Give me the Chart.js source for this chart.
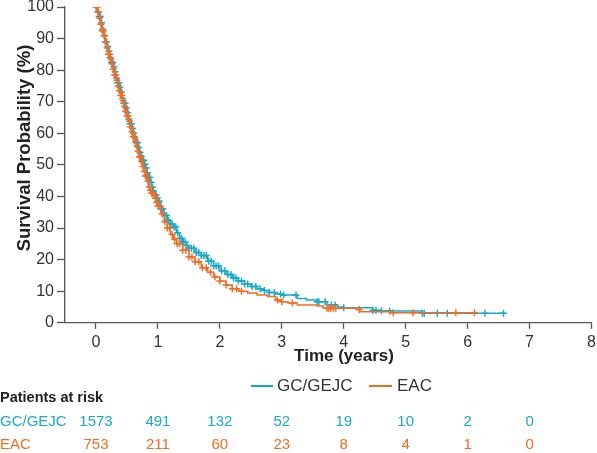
<!DOCTYPE html>
<html>
<head>
<meta charset="utf-8">
<script src="https://cdn.jsdelivr.net/npm/chart.js@4/dist/chart.umd.min.js"></script>
<style>
  html, body { margin: 0; padding: 0; background: #fff; }
  #wrap { width: 597px; height: 453px; }
</style>
</head>
<body>
<div id="wrap"><canvas id="kmChart" width="597" height="453"></canvas></div>
<script>
// Kaplan-Meier steps (time in years, survival %)
const gcTime = [0, 0.025, 0.05, 0.075, 0.1, 0.125, 0.15, 0.175, 0.2, 0.225, 0.25, 0.275, 0.3, 0.325, 0.35, 0.375,
  0.4, 0.425, 0.45, 0.475, 0.5, 0.525, 0.55, 0.575, 0.6, 0.625, 0.65, 0.675, 0.7, 0.725, 0.75, 0.775, 0.8, 0.825,
  0.85, 0.875, 0.9, 0.925, 0.95, 0.975, 1.0, 1.05, 1.1, 1.15, 1.2, 1.25, 1.3, 1.35, 1.4, 1.45, 1.5, 1.6, 1.7, 1.8,
  1.9, 2.0, 2.1, 2.2, 2.3, 2.4, 2.5, 2.6, 2.7, 2.8, 2.9, 3.0, 3.25, 3.4, 3.57, 3.73, 3.9, 4.0, 4.47, 4.6, 4.74, 5.27, 6.6];
const gcSurv = [100, 98.5, 97, 95, 93, 91, 89, 87.5, 86, 84, 82.5, 81, 79.5, 77.5, 76, 74.5,
  73, 71, 69.5, 68, 66.5, 64.5, 63, 61.5, 60, 58.5, 57, 55.5, 54, 52.8, 51.5, 50.2, 49, 47.5,
  46, 44.5, 43, 41.7, 40.5, 39.5, 38.5, 36, 34, 32.5, 31.3, 30.3, 28.5, 26.8, 25.5, 24.5, 23.6, 22.3, 21.3, 19.5,
  18, 16.5, 15.3, 14.2, 13.2, 12.3, 11.5, 10.8, 10.2, 9.6, 9.1, 8.8, 7.7, 7.2, 6.7, 5.6, 5.0, 4.8, 4.0, 3.8, 3.7, 3.0, 3.0];

const eacTime = [0, 0.025, 0.05, 0.075, 0.1, 0.125, 0.15, 0.175, 0.2, 0.225, 0.25, 0.275, 0.3, 0.325, 0.35, 0.375,
  0.4, 0.425, 0.45, 0.475, 0.5, 0.525, 0.55, 0.575, 0.6, 0.625, 0.65, 0.675, 0.7, 0.725, 0.75, 0.775, 0.8, 0.825,
  0.85, 0.875, 0.9, 0.925, 0.95, 0.975, 1.0, 1.05, 1.1, 1.15, 1.2, 1.25, 1.3, 1.4, 1.5, 1.6, 1.7, 1.8, 1.9, 2.0,
  2.1, 2.2, 2.3, 2.45, 2.6, 2.77, 2.9, 3.0, 3.1, 3.25, 3.57, 3.67, 4.2, 4.26, 4.74, 6.13];
const eacSurv = [100, 98.3, 96.5, 94.5, 92.5, 90.8, 89, 87, 85, 83.5, 82, 80.3, 78.5, 76.8, 75, 73.5,
  72, 70.3, 68.5, 67, 65.5, 63.8, 62, 60.5, 59, 57.5, 56, 54.3, 52.5, 51, 49.5, 48, 46.5, 44.8,
  43, 42, 41, 40.3, 39.5, 38.2, 37, 34.5, 32, 30, 28, 26.5, 25, 23, 20.8, 19.3, 17.4, 16, 14.5, 13.2,
  12, 10.8, 10, 9.4, 8.8, 8.3, 7.2, 6.7, 6.3, 5.6, 5.3, 4.6, 4.2, 3.5, 3.2, 3.2];

// censored observations (times)
const gcCensor = [0.01, 0.03, 0.05, 0.07, 0.09, 0.11, 0.13, 0.15, 0.17, 0.19, 0.21, 0.23, 0.25, 0.27, 0.29, 0.31,
  0.33, 0.35, 0.37, 0.39, 0.41, 0.43, 0.45, 0.47, 0.49, 0.51, 0.53, 0.55, 0.57, 0.59, 0.61, 0.63, 0.65, 0.67, 0.69,
  0.71, 0.73, 0.75, 0.77, 0.79, 0.81, 0.83, 0.85, 0.87, 0.89, 0.91, 0.93, 0.95, 0.97, 0.99, 1.02, 1.05, 1.08, 1.11,
  1.14, 1.17, 1.2, 1.23, 1.26, 1.29, 1.32, 1.35, 1.38, 1.41, 1.44, 1.47, 1.5, 1.54, 1.58, 1.62, 1.66, 1.7, 1.74,
  1.78, 1.82, 1.86, 1.9, 1.94, 1.98, 2.03, 2.08, 2.13, 2.18, 2.22, 2.26, 2.3, 2.35, 2.4, 2.45, 2.52, 2.58, 2.65,
  2.72, 2.8, 2.88, 2.98, 3.03, 3.23, 3.57, 3.6, 3.7, 3.8, 3.86, 4.0, 4.47, 4.52, 4.61, 4.74, 5.27, 5.3, 5.51, 5.67,
  6.28, 6.58];
const eacCensor = [0.0, 0.02, 0.04, 0.06, 0.08, 0.1, 0.12, 0.14, 0.16, 0.18, 0.2, 0.22, 0.24, 0.26, 0.28, 0.3, 0.32,
  0.34, 0.36, 0.38, 0.4, 0.42, 0.44, 0.46, 0.48, 0.5, 0.52, 0.54, 0.56, 0.58, 0.6, 0.62, 0.64, 0.66, 0.68, 0.7, 0.72,
  0.74, 0.76, 0.78, 0.8, 0.82, 0.84, 0.86, 0.88, 0.9, 0.92, 0.94, 0.96, 0.98, 1.0, 1.03, 1.07, 1.11, 1.15, 1.19,
  1.23, 1.27, 1.31, 1.35, 1.4, 1.45, 1.5, 1.55, 1.6, 1.66, 1.72, 1.78, 1.85, 1.92, 2.0, 2.1, 2.2, 2.27, 2.35, 2.93,
  3.0, 3.17, 3.73, 3.76, 3.79, 3.83, 3.87, 4.25, 4.8, 5.12, 5.81, 6.11];

const xTicks = [0, 1, 2, 3, 4, 5, 6, 7, 8];
const yTicks = [0, 10, 20, 30, 40, 50, 60, 70, 80, 90, 100];
const riskGC = [1573, 491, 132, 52, 19, 10, 2, 0];
const riskEAC = [753, 211, 60, 23, 8, 4, 1, 0];

const BLUE = '#1aaac8';
const ORANGE = '#f26c22';
const AXIS = '#555';
const FONT = '"Liberation Sans", Arial, sans-serif';

function kmAt(times, surv, t) {
  let v = surv[0];
  for (let i = 0; i < times.length; i++) {
    if (times[i] <= t) v = surv[i];
  }
  return v;
}

function steps(times, surv) {
  return times.map((t, i) => ({ x: t, y: surv[i] }));
}

function marks(censor, times, surv) {
  return censor.map(t => ({ x: t, y: kmAt(times, surv, t) }));
}

// axis titles, legend and patients-at-risk table
const riskTable = {
  id: 'riskTable',
  afterDraw(chart) {
    const ctx = chart.ctx;
    const x = chart.scales.x;
    ctx.save();
    ctx.textBaseline = 'middle';

    ctx.save();
    ctx.translate(25, 148);
    ctx.rotate(-Math.PI / 2);
    ctx.font = 'bold 18.5px ' + FONT;
    ctx.fillStyle = '#222';
    ctx.textAlign = 'center';
    ctx.fillText('Survival Probability (%)', 0, 0);
    ctx.restore();

    ctx.font = 'bold 17px ' + FONT;
    ctx.fillStyle = '#222';
    ctx.textAlign = 'center';
    ctx.fillText('Time (years)', 344, 356);

    // legend
    ctx.lineWidth = 2;
    ctx.font = '17px ' + FONT;
    ctx.textAlign = 'left';
    ctx.strokeStyle = BLUE;
    ctx.beginPath(); ctx.moveTo(251, 386); ctx.lineTo(273, 386); ctx.stroke();
    ctx.fillStyle = '#333';
    ctx.fillText('GC/GEJC', 277, 386);
    ctx.strokeStyle = ORANGE;
    ctx.beginPath(); ctx.moveTo(369, 386); ctx.lineTo(392, 386); ctx.stroke();
    ctx.fillText('EAC', 397, 386);

    ctx.font = 'bold 14.5px ' + FONT;
    ctx.fillStyle = '#222';
    ctx.fillText('Patients at risk', 0, 398);

    ctx.font = '15px ' + FONT;
    ctx.fillStyle = BLUE;
    ctx.fillText('GC/GEJC', 0, 422);
    ctx.fillStyle = ORANGE;
    ctx.fillText('EAC', 0, 445);

    ctx.textAlign = 'center';
    riskGC.forEach((n, i) => {
      ctx.fillStyle = BLUE;
      ctx.fillText(String(n), x.getPixelForValue(xTicks[i]), 422);
    });
    riskEAC.forEach((n, i) => {
      ctx.fillStyle = ORANGE;
      ctx.fillText(String(n), x.getPixelForValue(xTicks[i]), 445);
    });
    ctx.restore();
  }
};

new Chart(document.getElementById('kmChart').getContext('2d'), {
  type: 'scatter',
  data: {
    datasets: [
      {
        label: 'EAC',
        data: steps(eacTime, eacSurv),
        showLine: true,
        stepped: true,
        borderColor: ORANGE,
        borderWidth: 1.5,
        pointRadius: 0
      },
      {
        label: 'EAC censored',
        data: marks(eacCensor, eacTime, eacSurv),
        showLine: false,
        pointStyle: 'cross',
        pointRadius: 3.5,
        borderColor: ORANGE,
        borderWidth: 1.5
      },
      {
        label: 'GC/GEJC',
        data: steps(gcTime, gcSurv),
        showLine: true,
        stepped: true,
        borderColor: BLUE,
        borderWidth: 1.5,
        pointRadius: 0
      },
      {
        label: 'GC/GEJC censored',
        data: marks(gcCensor, gcTime, gcSurv),
        showLine: false,
        pointStyle: 'cross',
        pointRadius: 3.5,
        borderColor: BLUE,
        borderWidth: 1.5
      }
    ]
  },
  options: {
    responsive: false,
    animation: false,
    layout: { padding: { top: 0, right: 0, bottom: 97, left: 0 } },
    plugins: {
      legend: { display: false },
      tooltip: { enabled: false }
    },
    scales: {
      x: {
        type: 'linear',
        min: -0.5,
        max: 8,
        afterBuildTicks: s => { s.ticks = xTicks.map(v => ({ value: v })); },
        afterFit: s => { s.paddingLeft = 0; s.paddingRight = 4; },
        grid: { display: true, drawOnChartArea: false, drawTicks: true, tickLength: 6, color: AXIS, tickColor: AXIS, tickWidth: 1.3 },
        border: { color: AXIS, width: 1.3 },
        ticks: { color: '#333', font: { family: FONT, size: 16 }, padding: 4, maxRotation: 0 },
        title: { display: false }
      },
      y: {
        min: 0,
        max: 100,
        afterBuildTicks: s => { s.ticks = yTicks.map(v => ({ value: v })); },
        afterFit: s => { s.width = 65; s.paddingTop = 7; s.paddingBottom = 0; },
        grid: { display: true, drawOnChartArea: false, drawTicks: true, tickLength: 8, color: AXIS, tickColor: AXIS, tickWidth: 1.3 },
        border: { color: AXIS, width: 1.3 },
        ticks: { color: '#333', font: { family: FONT, size: 16 }, padding: 3 },
        title: { display: false }
      }
    }
  },
  plugins: [riskTable]
});
</script>
</body>
</html>
